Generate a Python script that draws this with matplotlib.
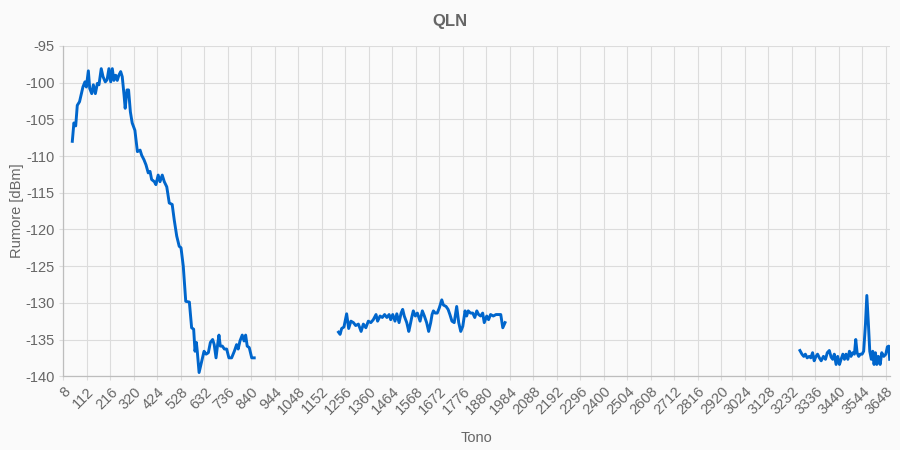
import matplotlib
matplotlib.use("Agg")
import matplotlib.pyplot as plt
import numpy as np

plt.rcParams['font.family'] = ['Liberation Sans', 'DejaVu Sans']
plt.rcParams['axes.unicode_minus'] = False

# tone / QLN readings (dBm), three separate bands
tones_a = [48, 55, 63, 70, 80, 95, 104, 110, 119, 125, 134, 141, 150, 159, 166, 176, 184, 194, 202,
           210, 218, 225, 232, 240, 247, 254, 262, 269, 277, 282, 290, 297, 305, 313, 325, 336, 348,
           355, 365, 374, 384, 392, 399, 411, 418, 428, 436, 446, 455, 466, 477, 490, 499, 510, 521,
           529, 539, 550, 566, 576, 585, 591, 597, 601, 609, 621, 631, 640, 650, 659, 669, 676, 684,
           691, 697, 703, 712, 721, 731, 741, 753, 765, 775, 782, 790, 800, 808, 815, 822, 831, 842, 853]
qln_a = [-108.0, -105.5, -105.9, -103.1, -102.6, -100.6, -99.9, -100.6, -98.4, -100.8, -101.5, -100.3,
         -101.5, -100.1, -100.3, -98.1, -99.2, -99.9, -99.6, -98.1, -99.9, -98.1, -99.7, -99.0, -99.7,
         -99.0, -98.5, -99.2, -101.7, -103.5, -101.0, -101.0, -104.0, -105.5, -106.5, -109.4, -109.2,
         -109.9, -110.5, -111.2, -112.3, -112.1, -113.2, -113.5, -113.9, -112.6, -113.5, -112.6, -113.5,
         -114.2, -116.4, -116.6, -118.7, -120.9, -122.3, -122.5, -125.0, -129.8, -129.9, -133.4, -133.6,
         -136.6, -135.4, -136.6, -139.5, -137.9, -136.6, -137.0, -136.8, -135.4, -135.0, -135.7, -137.5,
         -135.7, -134.4, -135.9, -135.9, -136.3, -136.3, -137.5, -137.5, -136.6, -135.7, -136.3, -135.2,
         -134.4, -135.2, -134.4, -135.9, -136.1, -137.5, -137.5]

tones_b = [1226, 1233, 1240, 1250, 1262, 1271, 1281, 1292, 1302, 1314, 1326, 1336, 1347, 1358, 1369,
           1380, 1392, 1399, 1410, 1420, 1430, 1440, 1450, 1457, 1466, 1476, 1484, 1494, 1503, 1510,
           1517, 1528, 1537, 1542, 1550, 1557, 1566, 1575, 1587, 1597, 1606, 1616, 1625, 1634, 1640,
           1646, 1654, 1663, 1672, 1683, 1690, 1702, 1711, 1719, 1728, 1738, 1749, 1758, 1767, 1776,
           1786, 1793, 1800, 1810, 1820, 1829, 1838, 1846, 1855, 1864, 1871, 1882, 1890, 1899, 1911,
           1923, 1933, 1944, 1953, 1963]
qln_b = [-134.0, -134.3, -133.5, -133.3, -131.5, -133.5, -132.5, -132.7, -133.1, -132.9, -133.9, -132.9,
         -133.4, -132.5, -132.7, -132.3, -131.6, -132.5, -131.8, -132.0, -131.6, -132.0, -131.6, -132.3,
         -131.6, -132.5, -131.5, -132.7, -131.4, -130.9, -131.8, -132.7, -133.9, -133.2, -132.0, -131.1,
         -131.8, -131.4, -132.5, -131.1, -131.8, -132.7, -133.9, -132.7, -131.6, -131.1, -131.4, -131.4,
         -130.7, -129.6, -130.3, -130.5, -130.9, -131.6, -132.5, -132.7, -130.5, -132.7, -133.9, -133.2,
         -131.1, -131.8, -131.1, -131.4, -131.4, -132.0, -131.1, -131.6, -131.8, -131.4, -132.7, -131.8,
         -132.3, -131.6, -131.8, -131.6, -131.6, -131.6, -133.4, -132.7]

tones_c = [3268, 3277, 3285, 3292, 3300, 3309, 3316, 3324, 3331, 3339, 3346, 3354, 3362, 3372, 3381,
           3389, 3398, 3406, 3413, 3420, 3428, 3435, 3443, 3450, 3458, 3465, 3472, 3480, 3487, 3494,
           3501, 3509, 3515, 3521, 3528, 3535, 3543, 3550, 3558, 3564, 3571, 3577, 3584, 3590, 3596,
           3602, 3608, 3615, 3623, 3630, 3639, 3648, 3655, 3661, 3665]
qln_c = [-136.5, -137.0, -137.3, -137.0, -137.5, -137.3, -137.5, -136.8, -137.9, -137.3, -137.0, -137.5,
         -137.9, -137.3, -137.7, -136.8, -136.5, -137.4, -137.7, -137.0, -138.4, -137.3, -138.4, -137.7,
         -137.0, -137.7, -137.0, -137.7, -136.6, -137.3, -136.8, -137.0, -135.0, -136.8, -137.3, -137.0,
         -137.0, -136.6, -132.9, -129.0, -132.9, -136.6, -137.7, -136.6, -138.4, -136.8, -138.4, -137.3,
         -138.4, -136.8, -137.3, -137.0, -136.0, -135.9, -137.7]

x_ticks = list(range(8, 3649, 104))
y_ticks = list(range(-140, -94, 5))

gap = [np.nan]
tones = tones_a + gap + tones_b + gap + tones_c
qln = qln_a + gap + qln_b + gap + qln_c

fig = plt.figure(figsize=(9, 4.5), dpi=100, facecolor='#fafafa')
ax = fig.add_axes([0.0703, 0.164, 0.9187, 0.734])
ax.set_facecolor('#fafafa')

ax.plot(tones, qln, color='#0066cc', linewidth=2.1, solid_joinstyle='round')

ax.set_xlim(8, 3667)
ax.set_ylim(-140, -95)
ax.set_xticks(x_ticks)
ax.set_xticklabels([str(t) for t in x_ticks], rotation=45, ha='right', rotation_mode='anchor')
ax.set_yticks(y_ticks)

ax.grid(True, color='#dcdcdc', linewidth=0.8)
ax.set_axisbelow(True)
for side in ['top', 'right']:
    ax.spines[side].set_visible(False)
for side in ['left', 'bottom']:
    ax.spines[side].set_color('#bdbdbd')
    ax.spines[side].set_linewidth(0.9)
ax.tick_params(axis='both', colors='#dcdcdc', labelcolor='#666666', labelsize=10.5, length=3, width=0.8)
ax.tick_params(axis='x', pad=3)
ax.tick_params(axis='y', pad=3)

fig.text(0.5, 0.953, 'QLN', ha='center', va='center', fontsize=12, fontweight='bold', color='#666666')
ax.set_xlabel('Tono', fontsize=10.5, color='#666666', labelpad=10)
ax.set_ylabel('Rumore [dBm]', fontsize=10.5, color='#666666', labelpad=1)

fig.savefig('out.png', dpi=100, facecolor=fig.get_facecolor())
